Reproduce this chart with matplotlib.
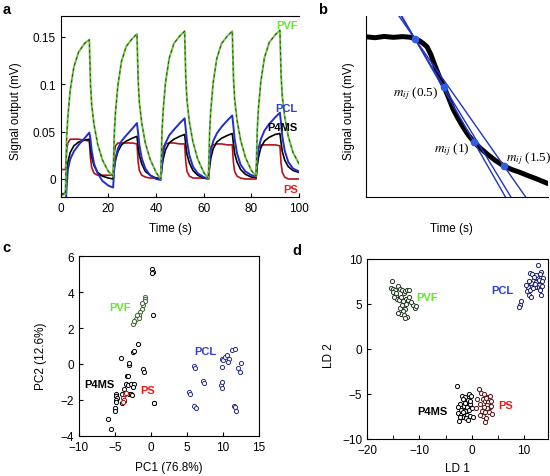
import numpy as np
import matplotlib.pyplot as plt

plt.rcParams['font.family'] = ['Liberation Sans', 'DejaVu Sans']
plt.rcParams['mathtext.fontset'] = 'stix'

# ---- panel a: sensor response, 5 exposure cycles ----
time_s = [0,
          2, 2.5, 3, 4, 5.5, 7.5, 10, 12, 12.5, 13, 14, 15.5, 17.5, 20,
          22, 22.5, 23, 24, 25.5, 27.5, 30, 32, 32.5, 33, 34, 35.5, 37.5, 40,
          42, 42.5, 43, 44, 45.5, 47.5, 50, 52, 52.5, 53, 54, 55.5, 57.5, 60,
          62, 62.5, 63, 64, 65.5, 67.5, 70, 72, 72.5, 73, 74, 75.5, 77.5, 80,
          82, 82.5, 83, 84, 85.5, 87.5, 90, 92, 92.5, 93, 94, 95.5, 97.5, 100]

pvf = [-0.017,
       -0.016, 0.045, 0.066, 0.094, 0.118, 0.134, 0.143, 0.147, 0.100, 0.078, 0.057, 0.037, 0.020, 0.008,
       0.003, 0.049, 0.071, 0.099, 0.124, 0.140, 0.148, 0.153, 0.104, 0.081, 0.059, 0.038, 0.021, 0.007,
       0.000, 0.050, 0.073, 0.102, 0.127, 0.143, 0.151, 0.156, 0.106, 0.083, 0.060, 0.039, 0.021, 0.007,
       0.000, 0.050, 0.073, 0.102, 0.127, 0.143, 0.151, 0.156, 0.107, 0.084, 0.062, 0.041, 0.023, 0.009,
       0.003, 0.052, 0.075, 0.103, 0.128, 0.144, 0.152, 0.157, 0.109, 0.087, 0.066, 0.045, 0.028, 0.016]

pcl = [-0.06,
       -0.03, -0.008, 0.010, 0.021, 0.029, 0.036, 0.043, 0.049, 0.042, 0.030, 0.016, 0.006, -0.002, -0.007,
       -0.009, 0.012, 0.022, 0.032, 0.040, 0.046, 0.053, 0.059, 0.048, 0.036, 0.022, 0.011, 0.004, 0.000,
       -0.001, 0.018, 0.028, 0.038, 0.046, 0.052, 0.059, 0.064, 0.052, 0.040, 0.025, 0.013, 0.006, 0.002,
       0.000, 0.020, 0.030, 0.040, 0.048, 0.055, 0.062, 0.067, 0.055, 0.042, 0.027, 0.015, 0.008, 0.004,
       0.003, 0.022, 0.032, 0.042, 0.051, 0.058, 0.065, 0.070, 0.058, 0.045, 0.030, 0.018, 0.011, 0.008]

p4ms = [-0.016,
        -0.015, 0.005, 0.018, 0.028, 0.035, 0.039, 0.041, 0.042, 0.032, 0.023, 0.014, 0.007, 0.003, 0.001,
        0.000, 0.012, 0.020, 0.029, 0.036, 0.040, 0.043, 0.045, 0.034, 0.025, 0.016, 0.008, 0.004, 0.001,
        0.000, 0.013, 0.021, 0.031, 0.038, 0.042, 0.045, 0.047, 0.036, 0.026, 0.017, 0.009, 0.004, 0.001,
        0.000, 0.013, 0.022, 0.032, 0.039, 0.043, 0.046, 0.048, 0.037, 0.027, 0.018, 0.010, 0.005, 0.002,
        0.002, 0.014, 0.023, 0.033, 0.040, 0.044, 0.047, 0.048, 0.038, 0.029, 0.020, 0.013, 0.009, 0.007]

ps = [0.010,
      0.010, 0.030, 0.038, 0.042, 0.042, 0.042, 0.041, 0.040, 0.022, 0.012, 0.006, 0.004, 0.004, 0.004,
      0.004, 0.028, 0.035, 0.038, 0.038, 0.038, 0.038, 0.037, 0.018, 0.009, 0.004, 0.002, 0.001, 0.001,
      0.001, 0.027, 0.034, 0.037, 0.038, 0.038, 0.037, 0.037, 0.018, 0.008, 0.003, 0.001, 0.001, 0.001,
      0.001, 0.027, 0.034, 0.036, 0.037, 0.037, 0.036, 0.036, 0.017, 0.008, 0.003, 0.001, 0.000, 0.000,
      0.000, 0.026, 0.033, 0.036, 0.036, 0.036, 0.036, 0.035, 0.016, 0.007, 0.002, 0.000, 0.000, 0.000]

# ---- panel b: decay curve and the three slope points ----
b_x = [0, 0.5, 1.0, 1.5, 2.0, 2.4, 2.69, 2.95, 3.15, 3.35, 3.55, 3.79, 4.05, 4.29,
       4.55, 4.78, 5.05, 5.33, 5.6, 5.93, 6.3, 6.65, 7.1, 7.58, 8.0, 8.46, 8.9, 9.4, 10.0]
b_y = [8.85, 8.80, 8.87, 8.82, 8.86, 8.83, 8.75, 8.62, 8.48, 8.3, 7.9, 7.25, 6.6, 6.08,
       5.45, 4.86, 4.35, 3.87, 3.45, 3.04, 2.68, 2.38, 2.02, 1.71, 1.52, 1.36, 1.18, 0.99, 0.74]
dot_x = [2.69, 4.29, 5.93, 7.58]
dot_y = [8.73, 6.08, 3.04, 1.71]
dot_labels = ['(0.5)', '(1)', '(1.5)']

# ---- panel c: PCA scores ----
c_pvf_x = [-0.8, -0.9, -0.85, -1.1, -1.3, -1.5, -1.7, -1.9, -2.1, -2.3, -2.5, -2.35, -1.6, -2.0, -1.2]
c_pvf_y = [3.75, 3.6, 3.5, 3.3, 3.05, 2.9, 2.75, 2.6, 2.5, 2.35, 2.25, 2.4, 2.55, 2.7, 3.4]
c_p4ms_x = [0.2, 0.25, 0.2, 0.3, -1.8, -2.5, -2.4, -4.1, -3.0, -3.1, -1.1, -1.0, -3.3, -3.2,
            -3.5, -3.2, -2.8, -2.4, -2.5, -3.8, -3.0, -2.8, -2.6, -4.0, -3.7, -4.0,
            -4.8, -4.9, -4.7, -4.9, -4.8, -5.0, -5.0, -6.0, -5.5, 0.4, 0.45]
c_p4ms_y = [5.3, 5.15, 5.05, 2.75, 1.1, 0.65, 0.7, 0.35, -0.05, 0.05, -0.3, -0.45, -0.65, -0.7,
            -1.1, -1.15, -1.1, -1.1, -1.3, -1.4, -1.7, -1.65, -1.75, -1.7, -2.05, -2.2,
            -1.7, -1.8, -1.9, -2.0, -2.1, -2.45, -2.6, -3.05, -3.6, -2.2, -2.2]
c_ps_x = [-3.9, -3.8, -3.6, -3.5, -3.95]
c_ps_y = [-1.9, -2.0, -1.7, -1.6, -2.1]
c_pcl_x = [6.0, 6.1, 5.3, 5.4, 6.0, 6.2, 7.2, 7.3, 9.8, 10.0, 10.3, 10.6, 10.8, 11.2, 11.6,
           10.7, 9.9, 12.1, 12.3, 12.5, 9.7, 9.9, 9.8, 11.5, 11.7, 11.8]
c_pcl_y = [-0.1, -0.2, -1.55, -1.7, -2.35, -2.45, -0.95, -1.05, 0.3, 0.2, 0.4, 0.5, 0.3, 0.75, 0.85,
           0.1, -0.15, -0.2, -0.45, 0.05, -1.2, -1.0, -1.35, -2.35, -2.4, -2.6]

# ---- panel d: LDA scores ----
d_pvf_x = [-15.3, -15.5, -15.0, -14.6, -15.1, -14.1, -13.7, -13.3, -13.0, -12.7, -12.3, -11.9,
           -12.5, -12.2, -12.6, -12.7, -13.1, -13.5, -14.1, -13.0, -12.4, -12.8, -11.2, -10.9,
           -10.6, -14.5, -14.2, -13.9, -14.8, -13.6, -13.2, -13.7, -12.0, -11.6, -14.4, -13.4]
d_pvf_y = [7.5, 6.8, 6.7, 6.5, 6.3, 7.0, 6.7, 6.5, 6.2, 6.4, 6.6, 6.6,
           5.6, 5.4, 5.0, 4.4, 4.2, 3.9, 4.0, 3.8, 3.6, 3.4, 4.9, 4.6,
           4.8, 5.9, 5.6, 5.4, 5.8, 5.8, 5.3, 4.6, 5.8, 5.2, 6.2, 4.9]
d_pcl_x = [12.6, 11.1, 11.6, 13.2, 13.1, 13.6, 12.4, 11.8, 12.2, 12.8, 13.4, 12.9, 12.5, 13.0,
           12.0, 11.4, 10.9, 10.8, 10.5, 11.2, 11.0, 11.3, 12.1, 13.3, 11.7, 9.5, 9.3, 9.1,
           12.3, 13.5, 11.9, 10.4]
d_pcl_y = [9.3, 8.4, 8.3, 8.6, 8.3, 7.9, 8.0, 7.6, 7.4, 7.7, 7.5, 7.1, 6.9, 6.6,
           6.9, 7.3, 7.5, 6.9, 6.4, 6.5, 6.0, 5.8, 7.2, 6.0, 6.8, 5.3, 4.9, 4.7,
           8.2, 7.0, 8.0, 7.1]
d_p4ms_x = [-2.9, -1.9, -1.2, -0.6, -0.1, -1.6, -0.8, -2.2, -1.5, -0.9, -0.3, -2.6, -2.0, -1.3,
            -0.6, 0.0, -2.7, -2.1, -1.5, -0.9, -0.3, -1.8, -1.1, 0.2, -2.5, -1.2, -0.4, -1.7,
            -2.3, -0.7]
d_p4ms_y = [-4.1, -5.2, -5.3, -5.0, -5.2, -5.6, -5.7, -6.1, -6.3, -6.4, -6.1, -6.5, -6.8, -6.9,
            -6.8, -6.6, -7.1, -7.3, -7.4, -7.3, -7.5, -7.6, -7.7, -7.6, -8.0, -6.0, -5.8, -7.0,
            -7.6, -7.9]
d_ps_x = [1.3, 1.8, 2.4, 2.9, 3.5, 1.0, 2.1, 2.6, 3.1, 3.7, 1.5, 2.9, 3.4, 0.8, 1.9, 2.5,
          3.3, 3.8, 2.2, 2.8, 2.6, 3.0, 2.3, 1.6, 3.6, 2.7]
d_ps_y = [-4.5, -4.9, -5.0, -5.3, -5.2, -5.6, -5.6, -5.8, -5.9, -5.8, -6.1, -6.2, -6.5, -6.6,
          -6.9, -7.0, -7.0, -7.2, -7.5, -7.7, -8.1, -6.6, -6.4, -7.3, -6.3, -5.5]

green_txt = '#66e62e'
blue_txt = '#2b3fd6'
red_txt = '#f01818'
fs = 8.5

fig = plt.figure(figsize=(5.5, 4.77), dpi=100)

# panel a
ax = fig.add_axes([0.1104, 0.5849, 0.4332, 0.3795])
ax.plot(time_s, ps, color='#b3121e', lw=1.2)
ax.plot(time_s, p4ms, color='black', lw=1.2)
ax.plot(time_s, pcl, color='#1f2fc8', lw=1.4)
ax.plot(time_s, pvf, color='#6cc240', lw=1.4)
ax.plot(time_s, pvf, color='#2f4a1c', lw=0.7, dashes=(3, 3))
ax.set_xlim(0, 100)
ax.set_ylim(-0.019, 0.172)
ax.set_xticks([0, 20, 40, 60, 80, 100])
ax.set_yticks([0, 0.05, 0.1, 0.15])
ax.set_yticklabels(['0', '0.05', '0.1', '0.15'])
ax.tick_params(direction='in', labelsize=fs, length=3)
ax.spines['right'].set_visible(False)
ax.set_xlabel('Time (s)', fontsize=fs)
ax.set_ylabel('Signal output (mV)', fontsize=fs)
ax.xaxis.set_label_coords(0.46, -0.14)
ax.yaxis.set_label_coords(-0.163, 0.48)
ax.text(99.5, 0.163, 'PVF', color=green_txt, fontsize=8, fontweight='bold', ha='right', va='center')
ax.text(99.5, 0.075, 'PCL', color=blue_txt, fontsize=8, fontweight='bold', ha='right', va='center')
ax.text(99.5, 0.055, 'P4MS', color='black', fontsize=8, fontweight='bold', ha='right', va='center')
ax.text(99.5, -0.0105, 'PS', color=red_txt, fontsize=8, fontweight='bold', ha='right', va='center')

# panel b
bx = fig.add_axes([0.6655, 0.5849, 0.3309, 0.3795])
bx.plot(b_x, b_y, color='black', lw=3.6, solid_capstyle='round')
for k in range(1, 4):
    m = (dot_y[k] - dot_y[0]) / (dot_x[k] - dot_x[0])
    ys = np.array([10.0, 0.0])
    xs = dot_x[0] + (ys - dot_y[0]) / m
    bx.plot(xs, ys, color='#1f35c0', lw=1.0)
bx.plot(dot_x, dot_y, 'o', color='#2f5ee6', ms=4.5, mec='#2f5ee6')
bx.set_xlim(0, 10)
bx.set_ylim(0, 10)
bx.set_xticks([])
bx.set_yticks([])
bx.spines['right'].set_visible(False)
bx.spines['top'].set_visible(False)
bx.set_xlabel('Time (s)', fontsize=fs)
bx.set_ylabel('Signal output (mV)', fontsize=fs)
bx.xaxis.set_label_coords(0.47, -0.14)
bx.yaxis.set_label_coords(-0.06, 0.48)
bx.text(dot_x[1] - 0.3, dot_y[1] - 0.3, r'$m_{ij}$ ' + dot_labels[0], fontsize=9.5,
        family='Liberation Serif', ha='right', va='center')
bx.text(dot_x[2] - 0.25, dot_y[2] - 0.35, r'$m_{ij}$ ' + dot_labels[1], fontsize=9.5,
        family='Liberation Serif', ha='right', va='center')
bx.text(dot_x[3] + 0.1, dot_y[3] + 0.45, r'$m_{ij}$ ' + dot_labels[2], fontsize=9.5,
        family='Liberation Serif', ha='left', va='center')

# panel c
cx = fig.add_axes([0.1436, 0.0845, 0.3273, 0.3761])
ms = 9
cx.scatter(c_p4ms_x, c_p4ms_y, s=ms, facecolors='white', edgecolors='black', linewidths=0.7)
cx.scatter(c_pvf_x, c_pvf_y, s=ms, facecolors='white', edgecolors='#3d6b2a', linewidths=0.7)
cx.scatter(c_ps_x, c_ps_y, s=ms, facecolors='white', edgecolors='#9a1a1a', linewidths=0.7)
cx.scatter(c_pcl_x, c_pcl_y, s=ms, facecolors='white', edgecolors='#2a2f8a', linewidths=0.7)
cx.set_xlim(-10, 15)
cx.set_ylim(-4, 6)
cx.set_xticks([-10, -5, 0, 5, 10, 15])
cx.set_yticks([-4, -2, 0, 2, 4, 6])
cx.set_xticklabels(['\u221210', '\u22125', '0', '5', '10', '15'])
cx.set_yticklabels(['\u22124', '\u22122', '0', '2', '4', '6'])
cx.tick_params(direction='in', labelsize=fs, length=3)
cx.set_xlabel('PC1 (76.8%)', fontsize=fs)
cx.set_ylabel('PC2 (12.6%)', fontsize=fs)
cx.xaxis.set_label_coords(0.5, -0.14)
cx.yaxis.set_label_coords(-0.178, 0.45)
cx.text(-4.25, 3.15, 'PVF', color=green_txt, fontsize=8, fontweight='bold', ha='center', va='center')
cx.text(7.6, 0.7, 'PCL', color=blue_txt, fontsize=8, fontweight='bold', ha='center', va='center')
cx.text(-7.1, -1.1, 'P4MS', color='black', fontsize=8, fontweight='bold', ha='center', va='center')
cx.text(-0.5, -1.43, 'PS', color=red_txt, fontsize=8, fontweight='bold', ha='center', va='center')

# panel d
dx = fig.add_axes([0.6673, 0.0776, 0.3293, 0.3774])
dx.scatter(d_pvf_x, d_pvf_y, s=ms, facecolors='white', edgecolors='#233a23', linewidths=0.7)
dx.scatter(d_pcl_x, d_pcl_y, s=ms, facecolors='white', edgecolors='#1a2070', linewidths=0.7)
dx.scatter(d_p4ms_x, d_p4ms_y, s=ms, facecolors='white', edgecolors='black', linewidths=0.7)
dx.scatter(d_ps_x, d_ps_y, s=ms, facecolors='white', edgecolors='#5a1414', linewidths=0.7)
dx.set_xlim(-20, 14.6)
dx.set_ylim(-10, 10)
dx.set_xticks([-20, -10, 0, 10])
dx.set_xticks([-15, -5, 5], minor=True)
dx.set_yticks([-10, -5, 0, 5, 10])
dx.set_xticklabels(['\u221220', '\u221210', '0', '10'])
dx.set_yticklabels(['\u221210', '\u22125', '0', '5', '10'])
dx.tick_params(direction='in', labelsize=fs, length=3)
dx.tick_params(which='minor', direction='in', length=3)
dx.set_xlabel('LD 1', fontsize=fs)
dx.set_ylabel('LD 2', fontsize=fs)
dx.xaxis.set_label_coords(0.5, -0.13)
dx.yaxis.set_label_coords(-0.177, 0.47)
dx.text(-8.5, 5.8, 'PVF', color=green_txt, fontsize=8, fontweight='bold', ha='center', va='center')
dx.text(5.9, 6.6, 'PCL', color=blue_txt, fontsize=8, fontweight='bold', ha='center', va='center')
dx.text(-7.5, -6.9, 'P4MS', color='black', fontsize=8, fontweight='bold', ha='center', va='center')
dx.text(6.5, -6.2, 'PS', color=red_txt, fontsize=8, fontweight='bold', ha='center', va='center')

for lab, x, y in [('a', 0.004, 0.994), ('b', 0.578, 0.994), ('c', 0.004, 0.494), ('d', 0.531, 0.488)]:
    fig.text(x, y, lab, fontsize=10.5, fontweight='bold', ha='left', va='top')

fig.savefig('out.png', dpi=100)
